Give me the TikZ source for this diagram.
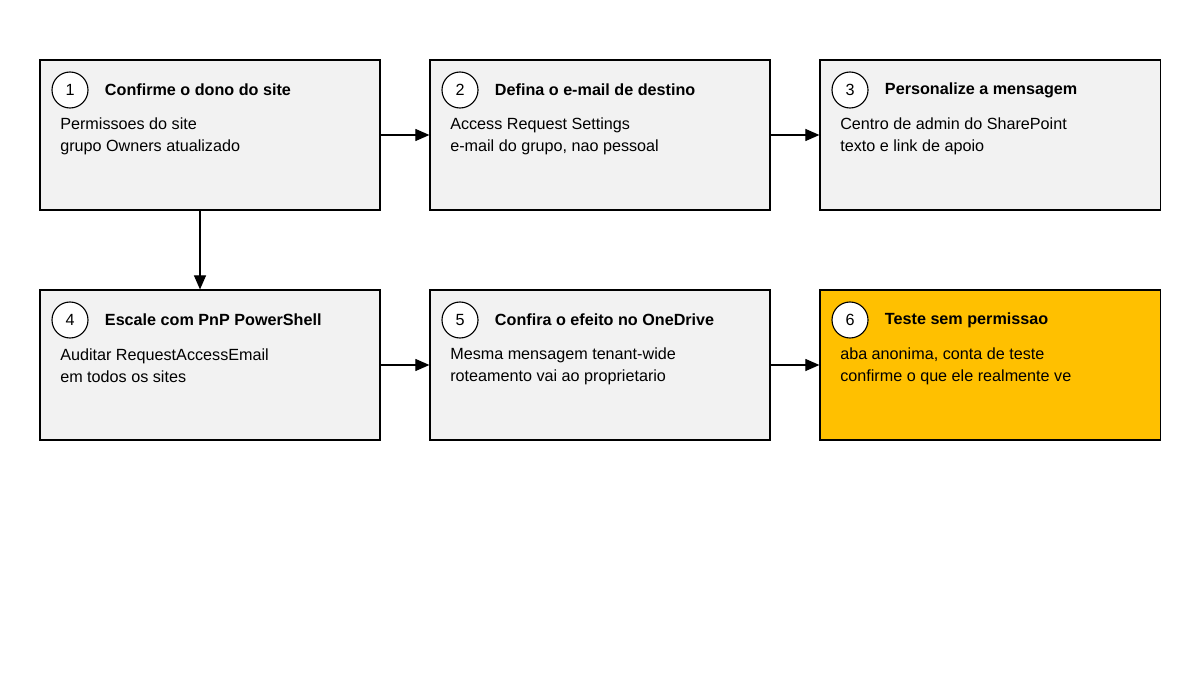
\documentclass[tikz,border=0pt]{standalone}
\usepackage{fontspec}
\setmainfont{Liberation Sans}
\usetikzlibrary{positioning,arrows.meta}
\definecolor{boxgray}{HTML}{F2F2F2}
\definecolor{boxgold}{HTML}{FFC000}

\begin{document}
\begin{tikzpicture}[x=0.025cm, y=-0.025cm,
  every node/.style={font=\fontsize{11.5}{15.6}\selectfont},
  stepbox/.style={draw, thick, minimum width=8.5cm, minimum height=3.75cm, inner sep=0pt},
  num/.style={draw, thick, circle, fill=white, minimum size=0.9cm, inner sep=0pt},
  flow/.style={thick, -{Triangle[length=3.5mm, width=3mm]}}]
  %----- fundo -----
  \useasboundingbox (0,0) rectangle (1200,675);
  \fill[white] (0,0) rectangle (1200,675);
  %----- etapa (nome, x, y, numero, titulo, linha 1, linha 2, cor) -----
  \def\step#1#2#3#4#5#6#7#8{
    \node[stepbox, fill=#8] (#1) at (#2,#3) {};
    \node[num] (#1n) at (#2-140,#3-45) {#4};
    \node[anchor=west, font=\fontsize{11.5}{14}\bfseries] (#1t) at (#2-110,#3-45) {#5};
    \node[anchor=west, align=left, inner sep=0pt] (#1b) at (#2-150,#3+1) {#6\\#7};
  }
  %----- linha 1 -----
  \step{s1}{210}{135}{1}{Confirme o dono do site}{Permissoes do site}{grupo Owners atualizado}{boxgray}
  \step{s2}{600}{135}{2}{Defina o e-mail de destino}{Access Request Settings}{e-mail do grupo, nao pessoal}{boxgray}
  \step{s3}{990}{135}{3}{Personalize a mensagem}{Centro de admin do SharePoint}{texto e link de apoio}{boxgray}
  %----- linha 2 -----
  \step{s4}{210}{365}{4}{Escale com PnP PowerShell}{Auditar RequestAccessEmail}{em todos os sites}{boxgray}
  \step{s5}{600}{365}{5}{Confira o efeito no OneDrive}{Mesma mensagem tenant-wide}{roteamento vai ao proprietario}{boxgray}
  \step{s6}{990}{365}{6}{Teste sem permissao}{aba anonima, conta de teste}{confirme o que ele realmente ve}{boxgold}

  %----- conectores -----
  \draw[flow] (s1) -- (s2);
  \draw[flow] (s2) -- (s3);
  \draw[flow] ([xshift=-0.25cm]s1.south) -- ([xshift=-0.25cm]s4.north);
  \draw[flow] (s4) -- (s5);
  \draw[flow] (s5) -- (s6);
\end{tikzpicture}
\end{document}
